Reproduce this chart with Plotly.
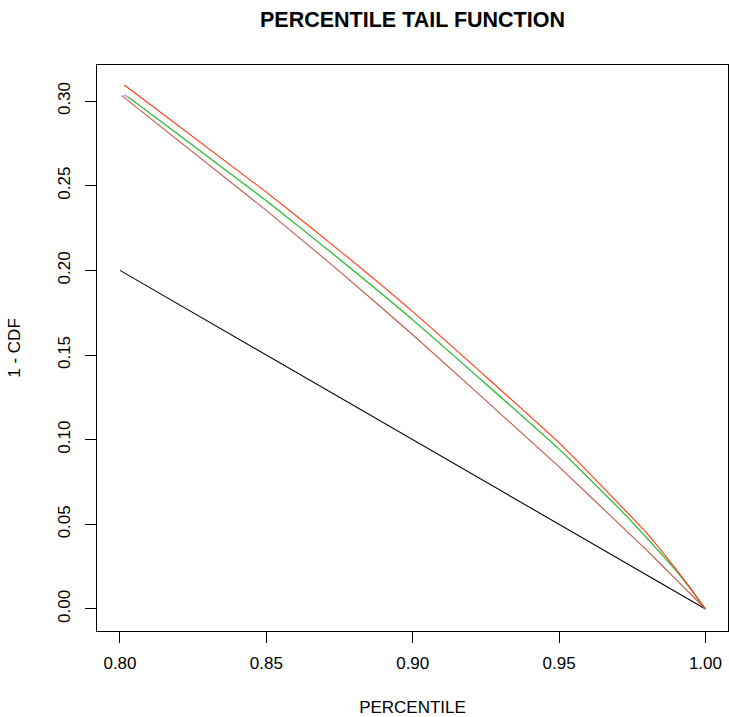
import plotly.graph_objects as go

# Data
x_black = [0.80, 1.00]
y_black = [0.20, 0.00]

x_brown = [0.8006, 0.85, 0.875, 0.90, 0.95, 0.973, 0.98, 0.99, 0.995, 1.00]
y_brown = [0.3032, 0.2354, 0.1994, 0.1620, 0.0839, 0.0461, 0.0346, 0.0173, 0.0087, 0.0]

x_purple = [0.8013, 0.8026, 0.85, 0.875, 0.90, 0.95, 0.973, 0.98, 0.99, 0.995, 1.00]
y_purple = [0.3036, 0.3026, 0.2411, 0.2066, 0.1708, 0.0944, 0.0549, 0.0419, 0.0226, 0.0115, 0.0]

x_green = [0.8026, 0.85, 0.875, 0.90, 0.95, 0.973, 0.98, 0.99, 0.995, 1.00]
y_green = [0.3026, 0.2411, 0.2066, 0.1708, 0.0944, 0.0549, 0.0419, 0.0226, 0.0115, 0.0]

x_red = [0.8015, 0.85, 0.875, 0.90, 0.95, 0.973, 0.98, 0.99, 0.995, 1.00]
y_red = [0.3095, 0.2462, 0.2117, 0.1756, 0.0981, 0.0575, 0.0447, 0.0234, 0.0120, 0.0]

x_ticks = [0.80, 0.85, 0.90, 0.95, 1.00]
x_ticklabels = ["0.80", "0.85", "0.90", "0.95", "1.00"]
y_ticks = [0.00, 0.05, 0.10, 0.15, 0.20, 0.25, 0.30]
y_ticklabels = ["0.00", "0.05", "0.10", "0.15", "0.20", "0.25", "0.30"]

FONT = "Arial, Liberation Sans, Helvetica, sans-serif"

fig = go.Figure()
for xs, ys, col in [
    (x_black, y_black, "#000000"),
    (x_brown, y_brown, "#BF5A4C"),
    (x_purple, y_purple, "#C070F0"),
    (x_green, y_green, "#1ED81E"),
    (x_red, y_red, "#FF3A10"),
]:
    fig.add_trace(go.Scatter(x=xs, y=ys, mode="lines",
                             line=dict(color=col, width=1.1, shape="spline", smoothing=0.4),
                             showlegend=False, hoverinfo="skip"))

fig.update_layout(
    width=729, height=717,
    margin=dict(l=97, r=1, t=65, b=86),
    paper_bgcolor="white", plot_bgcolor="white",
    font=dict(family=FONT, color="black", size=17),
    title=dict(text="<b>PERCENTILE TAIL FUNCTION</b>", xref="paper", x=0.5, xanchor="center",
               yref="container", y=1 - 19.5 / 717, yanchor="middle",
               font=dict(size=21.5, family=FONT)),
    xaxis=dict(range=[0.79215, 1.0077], tickvals=x_ticks, ticktext=x_ticklabels,
               showgrid=False, zeroline=False, showline=True, mirror=True,
               linecolor="black", linewidth=1, ticks="outside", ticklen=11,
               tickcolor="black", tickwidth=1, ticklabelstandoff=6,
               tickfont=dict(size=17),
               title=dict(text="PERCENTILE", standoff=28, font=dict(size=17))),
    yaxis=dict(range=[-0.0130, 0.3213], tickvals=y_ticks, ticktext=y_ticklabels,
               showgrid=False, zeroline=False, showline=True, mirror=True,
               linecolor="black", linewidth=1, ticks="outside", ticklen=11,
               tickcolor="black", tickwidth=1, tickangle=-90, ticklabelstandoff=8,
               tickfont=dict(size=17),
               title=dict(text="1 - CDF", standoff=30, font=dict(size=17))),
)

fig.write_html(
    "out.html",
    config={"displayModeBar": False},
    post_script="document.body.style.margin='0';document.body.style.overflow='hidden';",
)
